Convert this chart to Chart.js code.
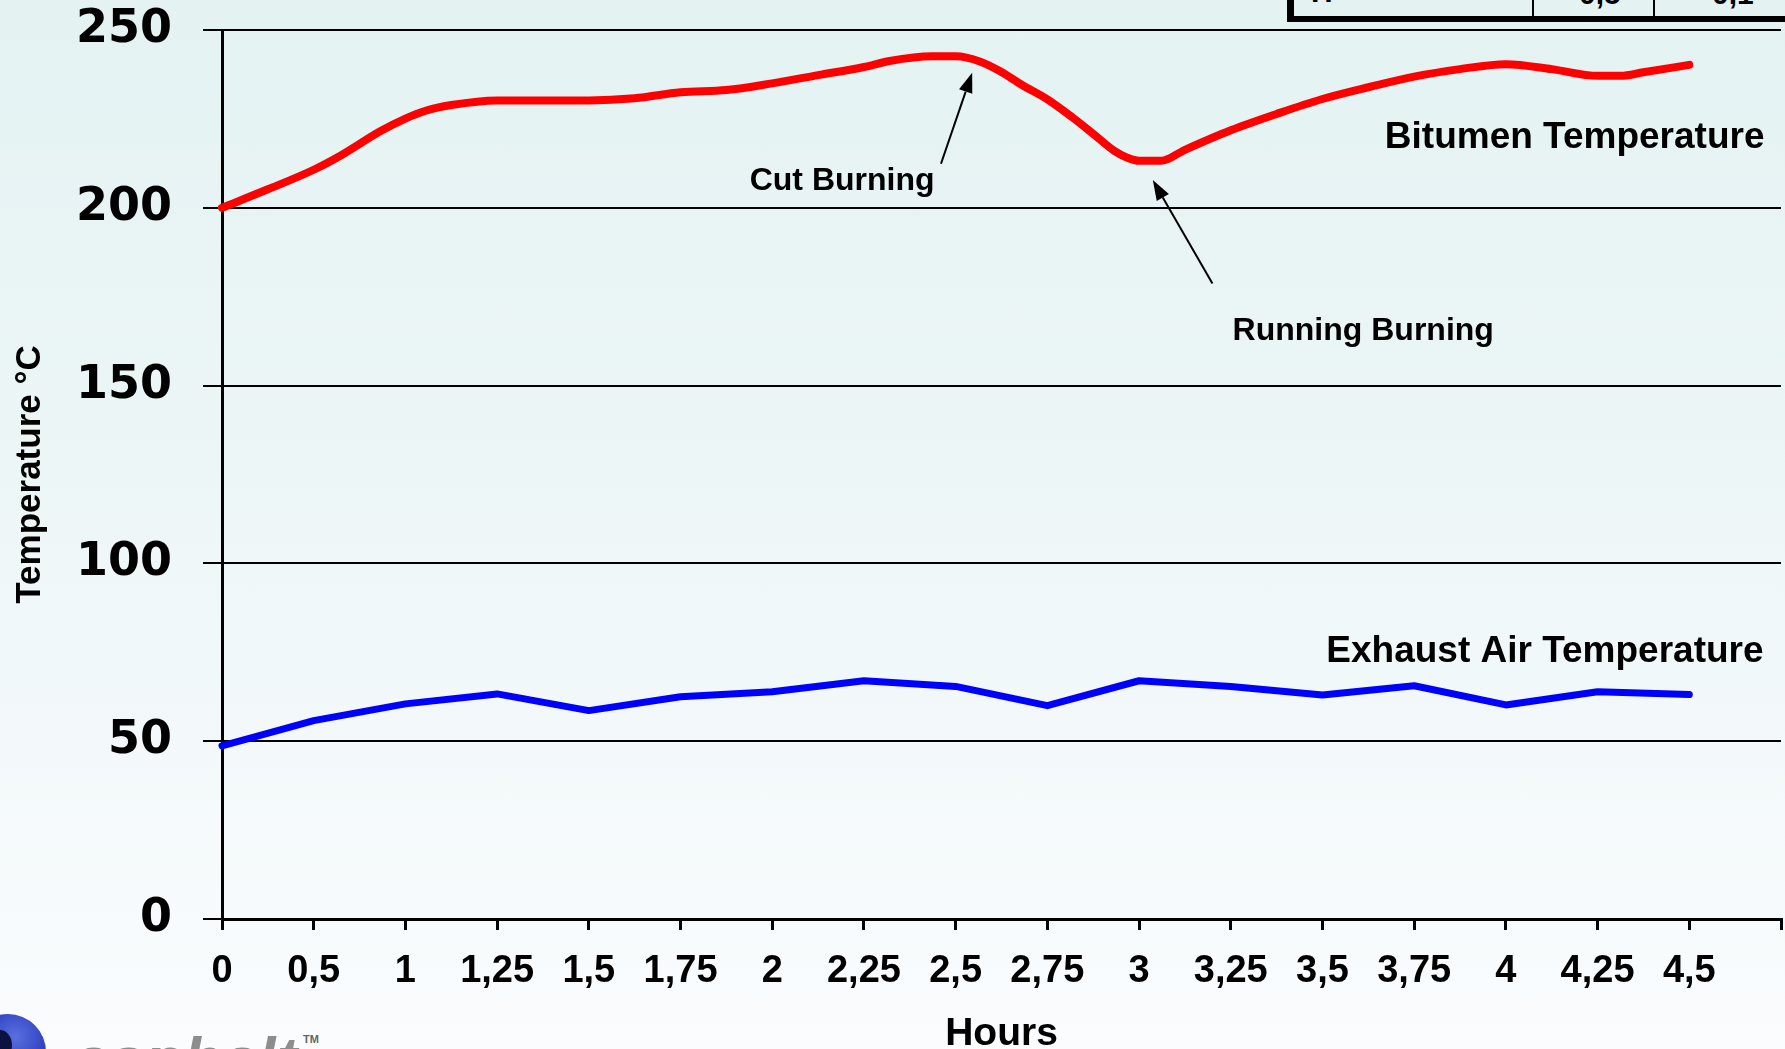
<!DOCTYPE html>
<html>
<head>
<meta charset="utf-8">
<script src="https://cdn.jsdelivr.net/npm/chart.js@4.4.1/dist/chart.umd.min.js"></script>
<style>
  html, body {
    margin: 0; padding: 0;
    width: 1785px; height: 1049px; overflow: hidden;
    background: linear-gradient(to bottom, #e4f2f2 0%, #edf6f7 45%, #fafcfe 100%);
    font-family: "Liberation Sans", Arial, sans-serif;
  }
  #wrap { position: absolute; left: 0; top: 0; width: 1800px; height: 1049px; }
  /* lower edge of the data table above the plot */
  .tbl { position: absolute; left: 1287px; top: -40px; width: 600px; height: 56px;
         border-left: 7px solid #000; border-bottom: 6px solid #000; }
  .tcol { position: absolute; top: -10px; width: 2px; height: 26px; background: #000; }
  .tcell { position: absolute; font-weight: bold; font-size: 30px; line-height: 30px; color: #000; }
  /* company logo, bottom left */
  .logo-mark { position: absolute; left: -30px; top: 1014px; width: 76px; height: 76px; border-radius: 50%;
               background: radial-gradient(circle at 60% 30%, #5a6fe0 0%, #2e42c0 45%, #1b2785 100%); }
  .logo-hole { position: absolute; left: -12px; top: 1030px; width: 24px; height: 30px; border-radius: 50%;
               background: #0c1240; }
  .logo-text { position: absolute; left: 74px; top: 1028px; font-size: 62px; line-height: 62px;
               font-weight: bold; font-style: italic; color: #8d8d8d; letter-spacing: 1px; }
  .logo-tm { position: absolute; left: 303px; top: 1033px; font-size: 11px; font-weight: bold; color: #666; }
</style>
</head>
<body>
<div class="tbl"></div>
<div class="tcol" style="left:1532px"></div>
<div class="tcol" style="left:1653px"></div>
<div class="tcell" style="left:1311px; top:-23px">H</div>
<div class="tcell" style="left:1579px; top:-21px">0,5</div>
<div class="tcell" style="left:1712px; top:-21px">0,1</div>

<div class="logo-mark"></div>
<div class="logo-hole"></div>
<div class="logo-text">asphalt</div>
<div class="logo-tm">TM</div>

<div id="wrap"><canvas id="c" width="1800" height="1049"></canvas></div>

<script>
// Category labels along the time axis (one per slot)
const hourLabels = ['0', '0,5', '1', '1,25', '1,5', '1,75', '2', '2,25', '2,5', '2,75',
                    '3', '3,25', '3,5', '3,75', '4', '4,25', '4,5'];

// Exhaust air temperature, one reading per slot
const exhaustTemp = [48.7, 55.8, 60.5, 63.3, 58.6, 62.5, 63.9, 67.0, 65.4, 60.0,
                     67.0, 65.4, 63.0, 65.6, 60.2, 63.9, 63.1];

// Bitumen temperature, logged more densely (position in slots)
const bitumenSlot = [0, 0.5, 1.0, 1.3, 1.73, 2.0, 2.22, 2.5, 3.0, 4.0, 4.5, 5.0, 5.5, 6.0,
                     6.5, 7.0, 7.28, 7.74, 8.0, 8.27, 8.5, 8.72, 9.0, 9.27, 9.5, 9.73, 9.87,
                     10.0, 10.24, 10.5, 11.0, 11.5, 12.0, 12.5, 13.0, 13.5, 14.0, 14.5,
                     15.0, 15.25, 15.5, 16.0];
const bitumenTemp = [200, 205.2, 210.7, 214.8, 221.6, 225.1, 227.3, 228.9, 230.2, 230.2,
                     230.8, 232.5, 233.1, 235.0, 237.3, 239.6, 241.3, 242.6, 242.6, 241.1,
                     238.2, 234.6, 230.5, 225.5, 220.8, 216.0, 214.1, 213.2, 213.2, 216.3,
                     221.8, 226.4, 230.6, 233.9, 236.9, 239.0, 240.4, 239.0, 237.1, 237.1,
                     238.1, 240.2];

// Text notes and arrows, placed in data units (slot, °C)
const notes = [
  { text: 'Cut Burning',             x: 7.77,  y: 205.0, align: 'right', size: 32 },
  { text: 'Running Burning',         x: 11.02, y: 162.7, align: 'left',  size: 32 },
  { text: 'Bitumen Temperature',     x: 16.82, y: 216.8, align: 'right', size: 37 },
  { text: 'Exhaust Air Temperature', x: 16.81, y: 72.3,  align: 'right', size: 37 }
];
const arrows = [
  { from: [7.84, 212.4],  to: [8.18, 238.0] },
  { from: [10.80, 178.7], to: [10.15, 207.8] }
];

const FONT = 'Liberation Sans';

const notesPlugin = {
  id: 'notes',
  afterDatasetsDraw(chart) {
    const ctx = chart.ctx, xs = chart.scales.x, ys = chart.scales.y;
    ctx.save();
    ctx.fillStyle = '#000';
    ctx.textBaseline = 'alphabetic';
    notes.forEach(n => {
      ctx.font = `bold ${n.size}px "${FONT}"`;
      ctx.textAlign = n.align;
      ctx.fillText(n.text, xs.getPixelForValue(n.x), ys.getPixelForValue(n.y));
    });
    ctx.strokeStyle = '#000';
    ctx.lineWidth = 2;
    arrows.forEach(a => {
      const x0 = xs.getPixelForValue(a.from[0]), y0 = ys.getPixelForValue(a.from[1]);
      const x1 = xs.getPixelForValue(a.to[0]),   y1 = ys.getPixelForValue(a.to[1]);
      const ang = Math.atan2(y1 - y0, x1 - x0);
      const len = 20, half = 7;
      const bx = x1 - len * Math.cos(ang), by = y1 - len * Math.sin(ang);
      ctx.beginPath();
      ctx.moveTo(x0, y0);
      ctx.lineTo(bx, by);
      ctx.stroke();
      ctx.beginPath();
      ctx.moveTo(x1, y1);
      ctx.lineTo(bx + half * Math.sin(ang), by - half * Math.cos(ang));
      ctx.lineTo(bx - half * Math.sin(ang), by + half * Math.cos(ang));
      ctx.closePath();
      ctx.fill();
    });
    ctx.restore();
  }
};

new Chart(document.getElementById('c'), {
  type: 'line',
  data: {
    datasets: [
      {
        label: 'Bitumen Temperature',
        data: bitumenSlot.map((s, i) => ({ x: s, y: bitumenTemp[i] })),
        borderColor: '#ff0000',
        borderWidth: 8,
        pointRadius: 0,
        cubicInterpolationMode: 'monotone',
        borderCapStyle: 'round',
        borderJoinStyle: 'round',
        clip: false
      },
      {
        label: 'Exhaust Air Temperature',
        data: exhaustTemp.map((v, i) => ({ x: i, y: v })),
        borderColor: '#0000ff',
        borderWidth: 7,
        pointRadius: 0,
        tension: 0,
        borderCapStyle: 'round',
        borderJoinStyle: 'round',
        clip: false
      }
    ]
  },
  options: {
    responsive: false,
    animation: false,
    devicePixelRatio: 1,
    layout: { padding: { top: 30, right: 16, left: 0, bottom: 0 } },
    plugins: { legend: { display: false }, tooltip: { enabled: false } },
    scales: {
      x: {
        type: 'linear',
        min: 0, max: 17,
        afterFit(s) { s.height = 130; },
        ticks: {
          stepSize: 1, autoSkip: false, maxRotation: 0, padding: 19, color: '#000',
          font: { family: FONT, weight: 'bold', size: 38 },
          callback: v => (Number.isInteger(v) && hourLabels[v] !== undefined) ? hourLabels[v] : ''
        },
        grid: { drawOnChartArea: false, drawTicks: true, tickLength: 11, color: '#000', lineWidth: 3 },
        border: { display: true, color: '#000', width: 3 },
        title: {
          display: true, text: 'Hours', color: '#000',
          font: { family: FONT, weight: 'bold', size: 39, lineHeight: 1 },
          padding: { top: 0, bottom: -5 }
        }
      },
      y: {
        min: 0, max: 250,
        afterFit(s) { s.width = 222; s.paddingTop = 0; s.paddingBottom = 0; },
        ticks: {
          stepSize: 50, padding: 31, color: '#000',
          font: { family: 'DejaVu Sans', weight: 'bold', size: 46 }
        },
        grid: { color: '#000', lineWidth: 2, tickLength: 19 },
        border: { display: true, color: '#000', width: 3 },
        title: {
          display: true, text: 'Temperature °C', color: '#000',
          font: { family: FONT, weight: 'bold', size: 35 },
          padding: { top: 9, bottom: 0 }
        }
      }
    }
  },
  plugins: [notesPlugin]
});
</script>
</body>
</html>
